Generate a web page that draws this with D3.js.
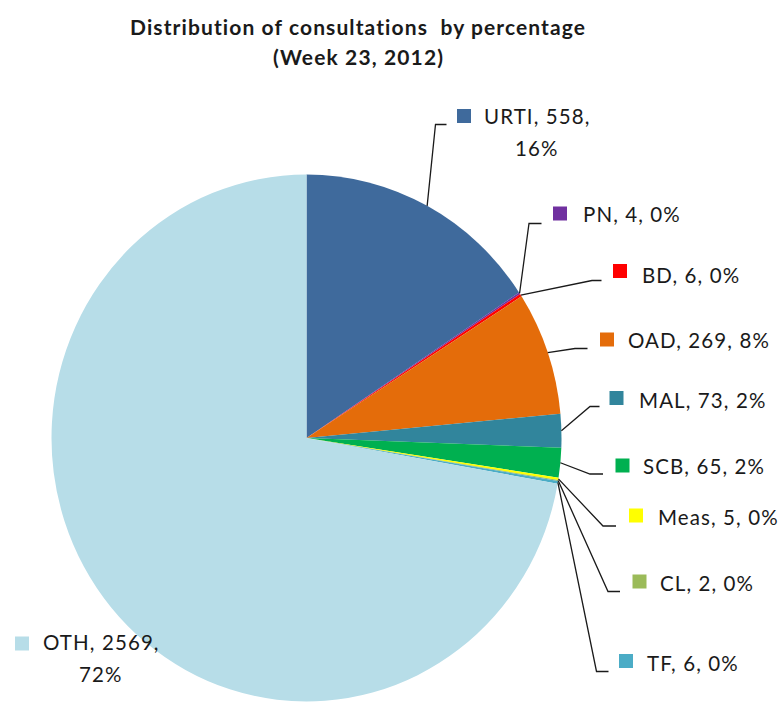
<!DOCTYPE html>
<html>
<head>
<meta charset="utf-8">
<script src="https://cdn.jsdelivr.net/npm/d3@7"></script>
<style>
  html, body { margin: 0; padding: 0; background: #fff; }
  svg { display: block; }
  text { font-family: Lato, "Open Sans", sans-serif; fill: #1a1a1a; font-variant-ligatures: none; white-space: pre; }
</style>
</head>
<body>
<svg id="chart" width="782" height="704"></svg>
<script>
// ---- data ----
const categories = ["URTI", "PN", "BD", "OAD", "MAL", "SCB", "Meas", "CL", "TF", "OTH"];
const values = [558, 4, 6, 269, 73, 65, 5, 2, 6, 2569];
const percentLabels = ["16%", "0%", "0%", "8%", "2%", "2%", "0%", "0%", "0%", "72%"];
const colors = ["#3F6A9C", "#7030A0", "#FF0000", "#E46C0A", "#31859C", "#00B050", "#FFFF00", "#9BBB59", "#4BACC6", "#B7DDE8"];
const titleLines = ["Distribution of consultations  by percentage", "(Week 23, 2012)"];

// ---- label layout (annotation placement) ----
const labelLayout = [
  { elbow: [435.5, 124.5], end: 446.5, box: [457, 109], tx: 484, ty: 124, wrap: true, line2x: 515, line2y: 156 },
  { elbow: [529, 223.5], end: 541.5, box: [553, 206.5], tx: 583, ty: 222 },
  { elbow: [592, 280.5], end: 601.5, box: [613, 264], tx: 642, ty: 283 },
  { elbow: [575, 348.5], end: 587.5, box: [600, 332.5], tx: 628, ty: 348 },
  { elbow: [590, 406.5], end: 599.5, box: [609.5, 391], tx: 639, ty: 407.5 },
  { elbow: [590, 474], end: 603, box: [615.5, 458.5], tx: 643, ty: 474 },
  { elbow: [603, 526], end: 616, box: [629, 508.5], tx: 658, ty: 525 },
  { elbow: [608, 591.5], end: 620, box: [632.5, 574.5], tx: 660, ty: 591 },
  { elbow: [596.5, 671.5], end: 608.5, box: [619, 654], tx: 647, ty: 671 },
  { elbow: null, end: null, box: [15, 636.5], tx: 43, ty: 650, wrap: true, line2x: 79, line2y: 682 }
];

const svg = d3.select("#chart");
const cx = 306.5, cy = 438, rx = 255, ry = 263.5;

// title
const title = svg.append("g");
title.append("text").attr("x", 130).attr("y", 35)
  .attr("font-weight", "bold").attr("font-size", 21)
  .attr("textLength", 455).attr("lengthAdjust", "spacing").text(titleLines[0]);
title.append("text").attr("x", 273).attr("y", 65)
  .attr("font-weight", "bold").attr("font-size", 21)
  .attr("textLength", 170).attr("lengthAdjust", "spacing").text(titleLines[1]);

// pie
const data = categories.map((c, i) => ({ cat: c, value: values[i], pct: percentLabels[i], color: colors[i], i }));
const pie = d3.pie().value(d => d.value).sort(null).startAngle(0).endAngle(2 * Math.PI);
const arcs = pie(data);
const arc = d3.arc().innerRadius(0).outerRadius(ry);

const pieG = svg.append("g").attr("transform", `translate(${cx},${cy}) scale(${rx / ry},1)`);
pieG.selectAll("path").data(arcs).enter().append("path")
  .attr("d", arc).attr("fill", d => d.data.color);

// leaders
const leaderG = svg.append("g");
arcs.forEach((a, i) => {
  const L = labelLayout[i];
  if (!L.elbow) return;
  const mid = (a.startAngle + a.endAngle) / 2;
  const sx = cx + rx * Math.sin(mid), sy = cy - ry * Math.cos(mid);
  const pts = [[sx, sy], L.elbow, [L.end, L.elbow[1]]];
  leaderG.append("path")
    .attr("d", d3.line()(pts))
    .attr("fill", "none").attr("stroke", "#1a1a1a").attr("stroke-width", 1.3);
});

// labels
const labG = svg.append("g");
const fs = 20.5, ls = 1.1;
arcs.forEach((a, i) => {
  const L = labelLayout[i];
  const d = a.data;
  labG.append("rect").attr("x", L.box[0]).attr("y", L.box[1])
    .attr("width", 14).attr("height", 14).attr("fill", d.color);
  if (L.wrap) {
    labG.append("text").attr("x", L.tx).attr("y", L.ty).attr("font-size", fs)
      .attr("letter-spacing", ls).text(`${d.cat}, ${d.value},`);
    labG.append("text").attr("x", L.line2x).attr("y", L.line2y).attr("font-size", fs)
      .attr("letter-spacing", ls).text(d.pct);
  } else {
    labG.append("text").attr("x", L.tx).attr("y", L.ty).attr("font-size", fs)
      .attr("letter-spacing", ls).text(`${d.cat}, ${d.value}, ${d.pct}`);
  }
});
</script>
</body>
</html>
